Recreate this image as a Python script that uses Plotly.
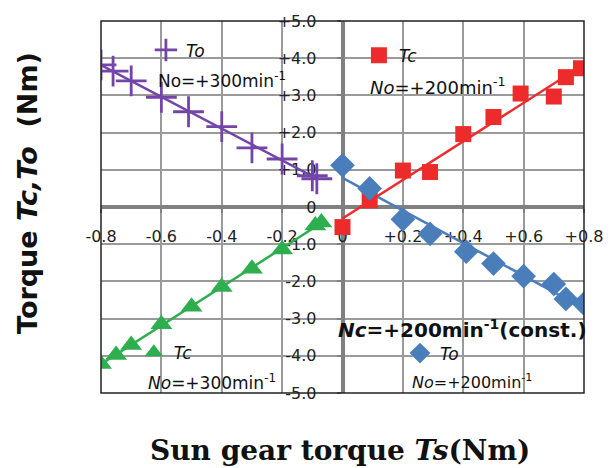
import numpy as np
import plotly.graph_objects as go

# ---- data ----
to300_x = [-0.80, -0.76, -0.70, -0.60, -0.51, -0.40, -0.30, -0.20, -0.10, -0.085]
to300_y = [3.82, 3.65, 3.39, 2.95, 2.56, 2.16, 1.59, 1.29, 0.84, 0.76]

tc300_x = [-0.80, -0.75, -0.70, -0.60, -0.50, -0.40, -0.30, -0.20, -0.09, -0.07]
tc300_y = [-4.22, -3.98, -3.71, -3.15, -2.68, -2.15, -1.66, -1.14, -0.50, -0.42]

tc200_x = [0.0, 0.09, 0.20, 0.29, 0.40, 0.50, 0.59, 0.70, 0.74, 0.79]
tc200_y = [-0.54, 0.18, 0.98, 0.94, 1.96, 2.42, 3.05, 2.97, 3.49, 3.73]

to200_x = [0.0, 0.09, 0.20, 0.29, 0.41, 0.50, 0.60, 0.70, 0.74, 0.80]
to200_y = [1.12, 0.50, -0.33, -0.72, -1.20, -1.52, -1.86, -2.07, -2.47, -2.60]

x_tickvals = [-0.8, -0.6, -0.4, -0.2, 0, 0.2, 0.4, 0.6, 0.8]
x_ticktext = ["-0.8", "-0.6", "-0.4", "-0.2", "0", "+0.2", "+0.4", "+0.6", "+0.8"]
y_tickvals = [5, 4, 3, 2, 1, 0, -1, -2, -3, -4, -5]
y_ticktext = ["+5.0", "+4.0", "+3.0", "+2.0", "+1.0", "0", "-1.0", "-2.0", "-3.0", "-4.0", "-5.0"]

PURPLE = "#7445a8"
RED = "#ee2b2b"
BLUE = "#4a7ebb"
GREEN = "#2fae50"

FONT = "DejaVu Sans"

fig = go.Figure()


def trend(xs, ys):
    k, b = np.polyfit(xs, ys, 1)
    xx = np.array([min(xs), max(xs)])
    return xx, k * xx + b


series = [
    (to300_x, to300_y, PURPLE, dict(symbol="cross-thin", size=22, line=dict(width=2.8, color=PURPLE)), "<i>To</i>", "legend"),
    (tc200_x, tc200_y, RED, dict(symbol="square", size=16), "<i>Tc</i>", "legend2"),
    (tc300_x, tc300_y, GREEN, dict(symbol="triangle-up", size=19), "<i>Tc</i>", "legend3"),
    (to200_x, to200_y, BLUE, dict(symbol="diamond", size=19), "<i>To</i>", "legend4"),
]

for xs, ys, col, mk, name, lg in series:
    tx, ty = trend(xs, ys)
    fig.add_trace(go.Scatter(x=tx, y=ty, mode="lines", line=dict(color=col, width=2.5),
                             showlegend=False, hoverinfo="skip"))
for xs, ys, col, mk, name, lg in series:
    fig.add_trace(go.Scatter(x=xs, y=ys, mode="markers", marker=dict(color=col, **mk),
                             name=name, legend=lg, showlegend=True))

legend_common = dict(bgcolor="rgba(0,0,0,0)", font=dict(family=FONT, size=17, color="#111"),
                     yanchor="middle", xanchor="left", itemsizing="trace")

grid_col = "#9a9a9a"
axis_col = "#808080"

# the page body adds an 8px margin, so the figure is sized/margined to compensate
fig.update_layout(
    width=607, height=460,
    margin=dict(l=93, r=31, t=4, b=75),
    paper_bgcolor="white", plot_bgcolor="white",
    font=dict(family=FONT, color="#111"),
    legend=dict(x=0.093, y=0.921, **legend_common),
    legend2=dict(x=0.534, y=0.907, **legend_common),
    legend3=dict(x=0.068, y=0.108, **legend_common),
    legend4=dict(x=0.619, y=0.106, **legend_common),
    xaxis=dict(range=[-0.8, 0.8], tickvals=x_tickvals, ticktext=x_ticktext,
               showgrid=True, gridcolor=grid_col, gridwidth=2,
               zeroline=False, showline=True, linecolor=axis_col, linewidth=3.5,
               anchor="free", position=0.5, ticks="outside", ticklen=4, tickcolor=axis_col,
               tickwidth=2, ticklabelstandoff=10, layer="below traces",
               ticklabeloverflow="allow",
               tickfont=dict(family=FONT, size=16, color="#222")),
    yaxis=dict(range=[-5, 5], tickvals=y_tickvals, ticktext=y_ticktext,
               showgrid=True, gridcolor=grid_col, gridwidth=2,
               zeroline=False, showline=True, linecolor=axis_col, linewidth=3.5,
               anchor="free", position=0.5, ticks="outside", ticklen=4, tickcolor=axis_col,
               tickwidth=2, ticklabelstandoff=17, layer="below traces",
               ticklabeloverflow="allow",
               tickfont=dict(family=FONT, size=16, color="#222")),
)

# plot-area border
fig.add_shape(type="rect", xref="x domain", yref="y domain", x0=0, x1=1, y0=0, y1=1,
              line=dict(color="#222", width=1.5), layer="above")

ann_font = dict(family=FONT, size=17, color="#111")
fig.add_annotation(x=-0.619, y=3.42, xref="x", yref="y", xanchor="left", yanchor="middle",
                   text="No=+300min<sup>-1</sup>", showarrow=False, font=ann_font)
fig.add_annotation(x=0.086, y=3.26, xref="x", yref="y", xanchor="left", yanchor="middle",
                   text="<i>No</i>=+200min<sup>-1</sup>", showarrow=False, font=dict(ann_font, size=18))
fig.add_annotation(x=-0.652, y=-4.70, xref="x", yref="y", xanchor="left", yanchor="middle",
                   text="<i>No</i>=+300min<sup>-1</sup>", showarrow=False, font=ann_font)
fig.add_annotation(x=0.225, y=-4.70, xref="x", yref="y", xanchor="left", yanchor="middle",
                   text="<i>No</i>=+200min<sup>-1</sup>", showarrow=False, font=dict(ann_font, size=16))
fig.add_annotation(x=-0.02, y=-3.29, xref="x", yref="y", xanchor="left", yanchor="middle",
                   text="<b><i>Nc</i>=+200min<sup>-1</sup>(const.)</b>", showarrow=False,
                   font=dict(family=FONT, size=20, color="#111"))

# axis titles
fig.add_annotation(x=0.495, y=-0.154, xref="paper", yref="paper", xanchor="center", yanchor="middle",
                   text="<b>Sun gear torque <i>Ts</i>(Nm)</b>", showarrow=False,
                   font=dict(family="DejaVu Serif", size=28, color="#111"))
fig.add_annotation(x=-0.151, y=0.538, xref="paper", yref="paper", xanchor="center", yanchor="middle",
                   text="<b>Torque <i>Tc,To</i>  (Nm)</b>", showarrow=False, textangle=-90,
                   font=dict(family=FONT, size=27, color="#111"))

fig.write_html("out.html")
